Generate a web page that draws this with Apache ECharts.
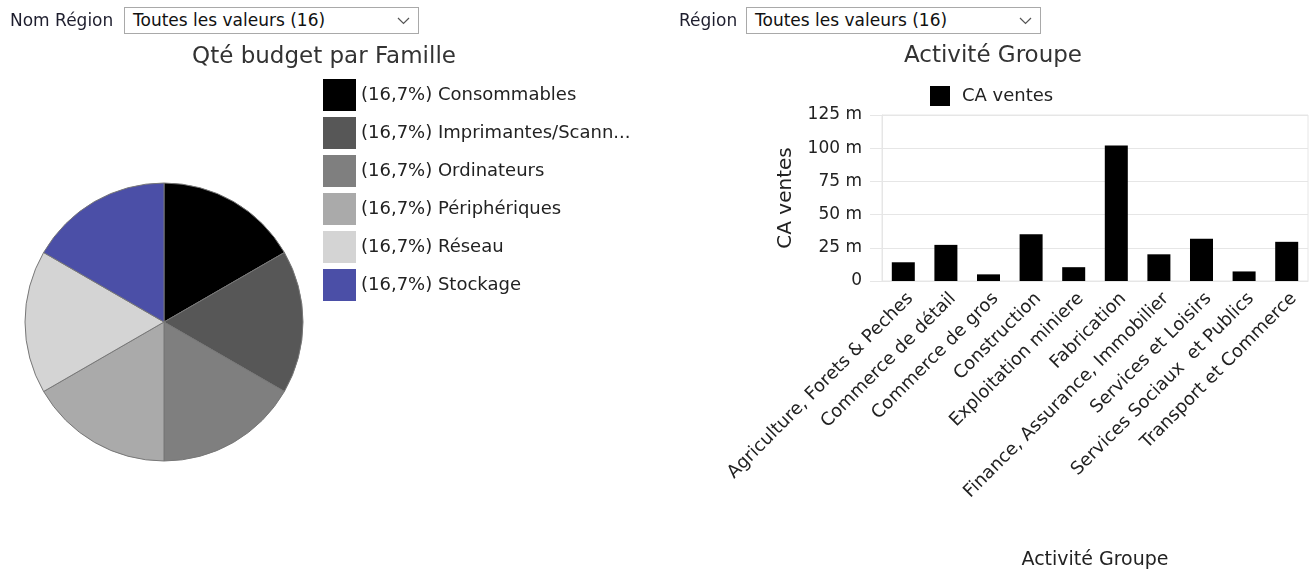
<!DOCTYPE html>
<html><head><meta charset="utf-8">
<script src="https://cdn.jsdelivr.net/npm/echarts@6/dist/echarts.min.js"></script>
<style>
html,body{margin:0;padding:0;background:#fff;overflow:hidden;}
#chart{position:absolute;left:0;top:0;width:1311px;height:571px;}
.lbl{position:absolute;font-family:'DejaVu Sans';font-size:17px;color:#1e1e2e;line-height:20px;z-index:2;}
.sel{position:absolute;border:1px solid #a9a9a9;box-sizing:border-box;height:27px;background:#fff;z-index:2;
  font-family:'DejaVu Sans';font-size:17px;color:#111;line-height:25px;padding-left:8px;}
.sel svg{position:absolute;right:8px;top:9px;}
</style></head>
<body>
<div id="chart"></div>
<div class="lbl" style="left:10px;top:10px;">Nom Région</div>
<div class="sel" style="left:124px;top:7px;width:295px;">Toutes les valeurs (16)<svg width="13" height="8" viewBox="0 0 13 8"><path d="M1 1 L6.5 6.5 L12 1" fill="none" stroke="#555" stroke-width="1.2"/></svg></div>
<div class="lbl" style="left:679px;top:10px;">Région</div>
<div class="sel" style="left:746px;top:7px;width:295px;">Toutes les valeurs (16)<svg width="13" height="8" viewBox="0 0 13 8"><path d="M1 1 L6.5 6.5 L12 1" fill="none" stroke="#555" stroke-width="1.2"/></svg></div>
<script>
// ---- data ----
const pieCategories = ['Consommables', 'Imprimantes/Scanners', 'Ordinateurs', 'Périphériques', 'Réseau', 'Stockage'];
const pieValues = [1, 1, 1, 1, 1, 1];
const pieColors = ['#000000', '#575757', '#7f7f7f', '#aaaaaa', '#d4d4d4', '#4b4fa7'];

const barCategories = ['Agriculture, Forets & Peches', 'Commerce de détail', 'Commerce de gros', 'Construction',
  'Exploitation miniere', 'Fabrication', 'Finance, Assurance, Immobilier', 'Services et Loisirs',
  'Services Sociaux  et Publics', 'Transport et Commerce'];
const barValues = [14.1, 27.2, 5.0, 35.2, 10.4, 102, 20.1, 31.8, 7.2, 29.5];
const barSeriesName = 'CA ventes';
const yMax = 125, yInterval = 25;

const FONT = 'DejaVu Sans';
const total = pieValues.reduce((a, b) => a + b, 0);
const pct = {};
pieCategories.forEach((c, i) => { pct[c] = (pieValues[i] / total * 100).toFixed(1).replace('.', ','); });

const chart = echarts.init(document.getElementById('chart'), null, {renderer: 'canvas'});
chart.setOption({
  animation: false,
  color: pieColors,
  title: [
    {text: 'Qté budget par Famille', left: 324, top: 46, textAlign: 'center', padding: 0,
     textStyle: {fontFamily: FONT, fontSize: 23, fontWeight: 'normal', color: '#333'}},
    {text: 'Activité Groupe', left: 993, top: 45, textAlign: 'center', padding: 0,
     textStyle: {fontFamily: FONT, fontSize: 23, fontWeight: 'normal', color: '#333'}}
  ],
  legend: [
    {orient: 'vertical', left: 323, top: 79, padding: 0, itemWidth: 33, itemHeight: 32, itemGap: 6,
     icon: 'rect', selectedMode: false, data: pieCategories,
     itemStyle: {borderWidth: 0},
     formatter: n => '(' + pct[n] + '%) ' + n,
     textStyle: {fontFamily: FONT, fontSize: 18, color: '#222', width: 272, overflow: 'truncate', ellipsis: '...'}},
    {left: 930, top: 86, padding: 0, itemWidth: 20, itemHeight: 20, icon: 'rect', selectedMode: false,
     data: [barSeriesName],
     textStyle: {fontFamily: FONT, fontSize: 18, color: '#222', padding: [0, 0, 0, 7]}}
  ],
  grid: {left: 882, right: 3, top: 115, bottom: 288, show: true, borderColor: '#e6e6e6', borderWidth: 1, containLabel: false},
  xAxis: {
    type: 'category', data: barCategories,
    axisLine: {show: true, lineStyle: {color: '#e6e6e6'}},
    axisTick: {show: false},
    axisLabel: {rotate: 45, interval: 0, margin: 22, padding: [0, -10, 0, 0], fontFamily: FONT, fontSize: 18, color: '#222'},
    name: 'Activité Groupe', nameLocation: 'middle', nameGap: 270,
    nameTextStyle: {fontFamily: FONT, fontSize: 19, color: '#222'}
  },
  yAxis: {
    type: 'value', min: 0, max: yMax, interval: yInterval,
    axisLine: {show: true, lineStyle: {color: '#e6e6e6'}},
    axisTick: {show: true, length: 12, lineStyle: {color: '#e6e6e6'}},
    splitLine: {show: true, lineStyle: {color: '#e6e6e6'}},
    axisLabel: {margin: 20, fontFamily: FONT, fontSize: 17, color: '#222',
      formatter: v => v === 0 ? '0' : v + ' m'},
    name: 'CA ventes', nameLocation: 'middle', nameGap: 86, nameRotate: 90,
    nameTextStyle: {fontFamily: FONT, fontSize: 20, color: '#222'}
  },
  series: [
    {type: 'pie', center: [164, 322], radius: 139, startAngle: 90, clockwise: true,
     label: {show: false}, labelLine: {show: false}, silent: true,
     itemStyle: {borderColor: '#777', borderWidth: 1},
     data: pieCategories.map((c, i) => ({name: c, value: pieValues[i]}))},
    {type: 'bar', name: barSeriesName, data: barValues, barWidth: '54%',
     itemStyle: {color: '#000'}, silent: true}
  ]
});
</script>
</body></html>
